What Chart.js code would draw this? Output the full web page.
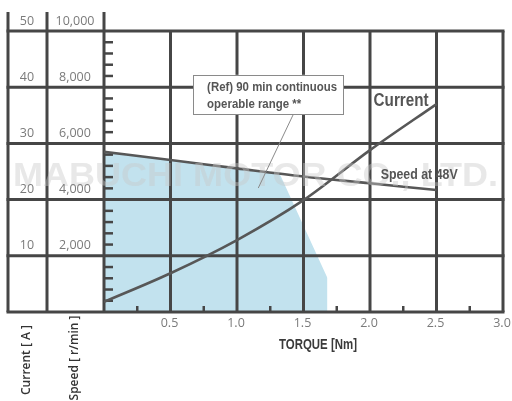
<!DOCTYPE html>
<html>
<head>
<meta charset="utf-8">
<script src="https://cdn.jsdelivr.net/npm/chart.js@4/dist/chart.umd.min.js"></script>
<style>
html,body{margin:0;padding:0;background:#fff;}
canvas{display:block;}
</style>
</head>
<body>
<canvas id="c" width="512" height="401"></canvas>
<script>
// ---- data ----
const torque = [0, 0.5, 1.0, 1.5, 2.0, 2.5];              // Nm
const speedRpm = [5700, 5410, 5110, 4820, 4580, 4340];     // r/min at 48V
const currentA = [1.8, 6.9, 12.8, 19.9, 28.8, 37.0];        // A
// (Ref) 90 min continuous operable range (speed axis units)
const rangeTorque = [0, 0.5, 1.0, 1.32, 1.68, 1.68];
const rangeSpeed = [5700, 5410, 5110, 4925, 1210, 0];
// tick labels
const xTickValues = [0.5, 1.0, 1.5, 2.0, 2.5, 3.0];
const xTickLabels = ['0.5', '1.0', '1.5', '2.0', '2.5', '3.0'];
const currentTickValues = [10, 20, 30, 40, 50];
const currentTickLabels = ['10', '20', '30', '40', '50'];
const speedTickValues = [2000, 4000, 6000, 8000, 10000];
const speedTickLabels = ['2,000', '4,000', '6,000', '8,000', '10,000'];

const GRID = '#464646';
const LINE = '#575757';
const BOLDFONT = '"Liberation Sans",Arial,sans-serif';
const TICKFONT = '"Open Sans","Noto Sans",sans-serif';

// draw text squeezed horizontally to a given width (condensed look)
function fitText(ctx, text, x, y, font, width, align) {
  ctx.save();
  ctx.font = font;
  const w = ctx.measureText(text).width;
  const s = width / w;
  let x0 = x;
  if (align === 'center') x0 = x - width / 2;
  ctx.translate(x0, y);
  ctx.scale(s, 1);
  ctx.textAlign = 'left';
  ctx.textBaseline = 'middle';
  ctx.fillText(text, 0, 0);
  ctx.restore();
}

const decor = {
  id: 'decor',
  beforeDraw(chart) {
    const ctx = chart.ctx;
    ctx.save();
    ctx.fillStyle = '#fff';
    ctx.fillRect(0, 0, chart.width, chart.height);
    ctx.restore();
  },
  afterDatasetDraw(chart, args) {
    if (args.index !== 0) return;
    const ctx = chart.ctx;
    const x = chart.scales.x, y = chart.scales.y;
    const a = chart.chartArea;
    const colA = 8, colB = 47, topExt = 12;
    ctx.save();
    ctx.strokeStyle = GRID;
    ctx.lineCap = 'butt';
    ctx.lineWidth = 3;
    [0, 10, 20, 30, 40, 50].forEach(v => {
      const py = y.getPixelForValue(v);
      ctx.beginPath(); ctx.moveTo(colA - 1.5, py); ctx.lineTo(a.right + 1.5, py); ctx.stroke();
    });
    [colA, colB, a.left].forEach(px => {
      ctx.beginPath(); ctx.moveTo(px, topExt); ctx.lineTo(px, a.bottom); ctx.stroke();
    });
    xTickValues.forEach(v => {
      const px = x.getPixelForValue(v);
      ctx.beginPath(); ctx.moveTo(px, a.top); ctx.lineTo(px, a.bottom); ctx.stroke();
    });
    ctx.lineWidth = 2.5;
    for (let v = 2; v < 50; v += 2) {
      if (v % 10 === 0) continue;
      const py = y.getPixelForValue(v);
      ctx.beginPath(); ctx.moveTo(a.left, py); ctx.lineTo(a.left + 9, py); ctx.stroke();
    }
    for (let v = 0.25; v < 3; v += 0.5) {
      const px = x.getPixelForValue(v);
      ctx.beginPath(); ctx.moveTo(px, a.bottom); ctx.lineTo(px, a.bottom - 6); ctx.stroke();
    }
    ctx.restore();
  },
  afterDraw(chart) {
    const ctx = chart.ctx;
    const x = chart.scales.x, y = chart.scales.y, y1 = chart.scales.y1;
    const a = chart.chartArea;
    ctx.save();
    // watermark
    ctx.fillStyle = 'rgba(200,200,200,0.42)';
    fitText(ctx, 'MABUCHI MOTOR CO., LTD.', 13, 177, 'bold 34px ' + BOLDFONT, 485, 'left');

    // tick labels
    ctx.font = '12.5px ' + TICKFONT;
    ctx.fillStyle = '#7a7a7a';
    ctx.textAlign = 'center';
    ctx.textBaseline = 'middle';
    currentTickValues.forEach((v, i) => {
      ctx.fillText(currentTickLabels[i], 27, y.getPixelForValue(v) - 10);
    });
    speedTickValues.forEach((v, i) => {
      ctx.fillText(speedTickLabels[i], 75, y1.getPixelForValue(v) - 10);
    });
    xTickValues.forEach((v, i) => {
      ctx.fillText(xTickLabels[i], x.getPixelForValue(v) - 1, a.bottom + 11);
    });

    // axis titles
    ctx.fillStyle = '#3a3a3a';
    fitText(ctx, 'TORQUE [Nm]', 318, a.bottom + 33, 'bold 14px ' + BOLDFONT, 78, 'center');
    ctx.fillStyle = '#333';
    ctx.font = '600 12px ' + TICKFONT;
    ctx.textAlign = 'center';
    ctx.save();
    ctx.translate(27, 360); ctx.rotate(-Math.PI / 2);
    ctx.fillText('Current [ A ]', 0, 0);
    ctx.restore();
    ctx.save();
    ctx.translate(75, 358); ctx.rotate(-Math.PI / 2);
    ctx.fillText('Speed [ r/min ]', 0, 0);
    ctx.restore();

    // annotation box with leader line
    const bx0 = x.getPixelForValue(0.67), bx1 = x.getPixelForValue(1.80);
    const by0 = y.getPixelForValue(42.2), by1 = y.getPixelForValue(35.2);
    ctx.strokeStyle = '#8a8a8a';
    ctx.lineWidth = 1;
    ctx.beginPath();
    ctx.moveTo(x.getPixelForValue(1.424), by1);
    ctx.lineTo(x.getPixelForValue(1.16), y.getPixelForValue(22.06));
    ctx.stroke();
    ctx.fillStyle = '#fff';
    ctx.fillRect(bx0, by0, bx1 - bx0, by1 - by0);
    ctx.strokeRect(Math.round(bx0) + 0.5, Math.round(by0) + 0.5, Math.round(bx1 - bx0), Math.round(by1 - by0));
    ctx.fillStyle = '#555';
    fitText(ctx, '(Ref) 90 min continuous', bx0 + 14, by0 + 12, 'bold 13.5px ' + BOLDFONT, 130, 'left');
    fitText(ctx, 'operable range **', bx0 + 14, by0 + 29, 'bold 13.5px ' + BOLDFONT, 94, 'left');

    // series labels
    fitText(ctx, 'Current', x.getPixelForValue(2.027), y.getPixelForValue(37.6), 'bold 17.5px ' + BOLDFONT, 55, 'left');
    fitText(ctx, 'Speed at 48V', x.getPixelForValue(2.08), y.getPixelForValue(24.4), 'bold 15px ' + BOLDFONT, 77, 'left');
    ctx.restore();
  }
};

new Chart(document.getElementById('c'), {
  type: 'line',
  data: {
    datasets: [
      {
        label: 'range',
        data: rangeTorque.map((t, i) => ({ x: t, y: rangeSpeed[i] })),
        yAxisID: 'y1',
        fill: 'origin',
        backgroundColor: '#c2e2ee',
        borderWidth: 0,
        pointRadius: 0,
        tension: 0,
        order: 3
      },
      {
        label: 'Speed at 48V',
        data: torque.map((t, i) => ({ x: t, y: speedRpm[i] })),
        yAxisID: 'y1',
        borderColor: LINE,
        borderWidth: 2.6,
        pointRadius: 0,
        cubicInterpolationMode: 'monotone',
        fill: false,
        order: 2
      },
      {
        label: 'Current',
        data: torque.map((t, i) => ({ x: t, y: currentA[i] })),
        yAxisID: 'y',
        borderColor: LINE,
        borderWidth: 2.6,
        pointRadius: 0,
        cubicInterpolationMode: 'monotone',
        fill: false,
        order: 1
      }
    ]
  },
  options: {
    responsive: false,
    animation: false,
    devicePixelRatio: 1,
    layout: { padding: { left: 104, right: 9, top: 31, bottom: 89 } },
    scales: {
      x: { type: 'linear', min: 0, max: 3, display: false },
      y: { type: 'linear', min: 0, max: 50, display: false },
      y1: { type: 'linear', min: 0, max: 10000, display: false }
    },
    plugins: { legend: { display: false }, tooltip: { enabled: false } }
  },
  plugins: [decor]
});
</script>
</body>
</html>
